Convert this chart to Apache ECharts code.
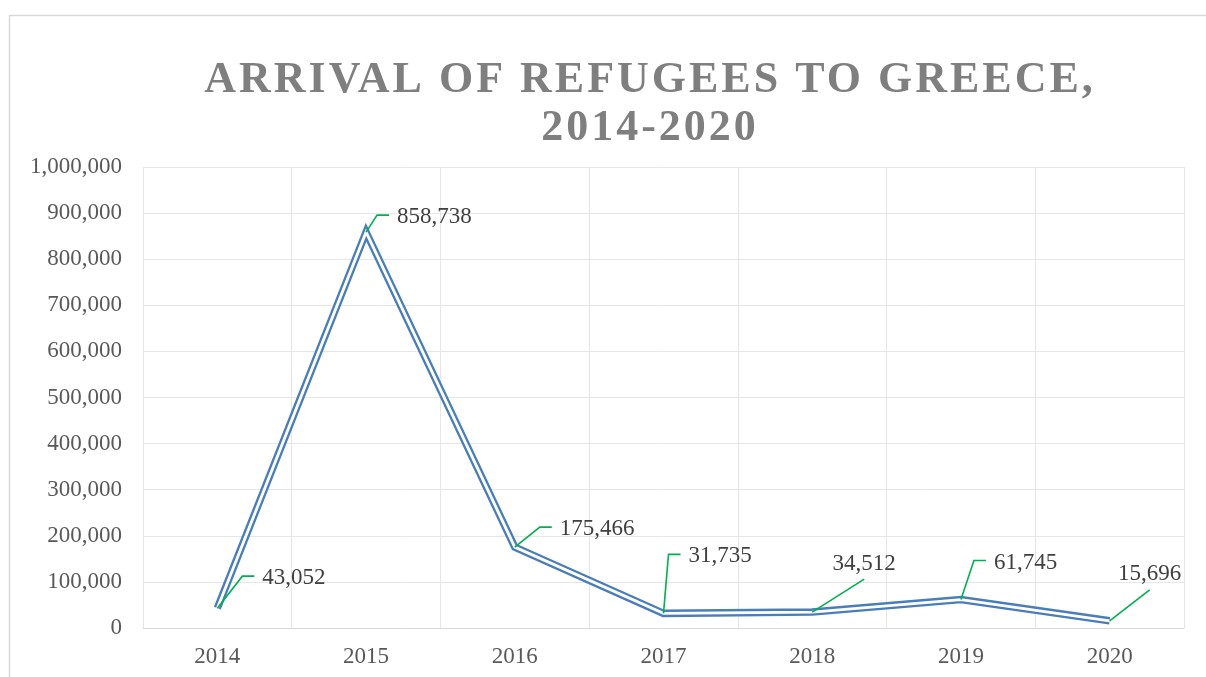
<!DOCTYPE html>
<html><head><meta charset="utf-8">
<script src="https://cdn.jsdelivr.net/npm/echarts@6/dist/echarts.min.js"></script>
<style>html,body{margin:0;padding:0;background:#fff}#c{width:1206px;height:677px}</style>
</head><body><div id="c"></div>
<script>
// ---- data ----
const years = ['2014', '2015', '2016', '2017', '2018', '2019', '2020'];
const arrivals = [43052, 858738, 175466, 31735, 34512, 61745, 15696];
const titleText = 'ARRIVAL OF REFUGEES TO GREECE,\n2014-2020';

// ---- label leader layout (pixel offsets, styling only) ----
const leaderLayout = [
  { mode: 'elbow', dx: 25, dy: -32 },
  { mode: 'elbow', dx: 11, dy: -17 },
  { mode: 'elbow', dx: 25, dy: -20 },
  { mode: 'elbow', dx: 5, dy: -59 },
  { mode: 'straight', dx: 52, dy: -33 },
  { mode: 'elbow', dx: 13, dy: -39 },
  { mode: 'straight', dx: 40, dy: -31 }
];

const fmt = v => Number(v).toLocaleString('en-US');
const SERIF = '"Liberation Serif", "Times New Roman", serif';
const BLUE = '#4a7ebb';

const chart = echarts.init(document.getElementById('c'));
// title lives on its own canvas layer so it can get letter spacing
try {
  const layer = chart.getZr().painter.getLayer(1);
  if (layer && layer.ctx) layer.ctx.letterSpacing = '3px';
} catch (e) {}

chart.setOption({
  animation: false,
  backgroundColor: '#ffffff',
  graphic: [{
    type: 'rect', z: -10, silent: true,
    shape: { x: 9.5, y: 15.5, width: 1300, height: 800 },
    style: { fill: 'none', stroke: '#d9d9d9', lineWidth: 1.5 }
  }],
  title: {
    text: titleText, zlevel: 1,
    left: 645, top: 52, textAlign: 'center',
    textStyle: { fontFamily: SERIF, fontWeight: 'bold', fontSize: 44, lineHeight: 48, color: '#7f7f7f' }
  },
  grid: { left: 143, right: 22, top: 167, bottom: 49, containLabel: false },
  xAxis: {
    type: 'category', data: years, boundaryGap: true,
    axisLine: { show: true, lineStyle: { color: '#d9d9d9', width: 1 } },
    axisTick: { show: false },
    splitLine: { show: true, lineStyle: { color: '#e6e6e6', width: 1 } },
    axisLabel: { color: '#595959', fontFamily: SERIF, fontSize: 23, margin: 17 }
  },
  yAxis: {
    type: 'value', min: 0, max: 1000000, interval: 100000,
    axisLine: { show: false }, axisTick: { show: false },
    splitLine: { show: true, lineStyle: { color: '#e6e6e6', width: 1 } },
    axisLabel: { color: '#595959', fontFamily: SERIF, fontSize: 23, margin: 21, formatter: v => fmt(v) }
  },
  series: [
    {
      type: 'line', data: arrivals, showSymbol: false, symbol: 'none', z: 2,
      lineStyle: { color: BLUE, width: 7.5, join: 'miter', miterLimit: 20, cap: 'butt' }
    },
    {
      type: 'line', data: arrivals, showSymbol: false, symbol: 'none', z: 3,
      lineStyle: { color: '#ffffff', width: 2.8, join: 'miter', miterLimit: 20, cap: 'butt' }
    },
    {
      type: 'custom', z: 5,
      data: arrivals.map((v, i) => [i, v]),
      encode: { x: 0, y: 1 },
      renderItem: function (params, api) {
        const i = params.dataIndex;
        const p = api.coord([api.value(0), api.value(1)]);
        const L = leaderLayout[i];
        const e = [p[0] + L.dx, p[1] + L.dy];
        let pts, tx, ty, align;
        if (L.mode === 'elbow') {
          pts = [p, e, [e[0] + 12, e[1]]];
          tx = e[0] + 20; ty = e[1] + 2; align = 'left';
        } else {
          pts = [p, e];
          tx = e[0]; ty = e[1] - 15.5; align = 'center';
        }
        return {
          type: 'group',
          children: [
            { type: 'polyline', shape: { points: pts }, style: { stroke: '#00b050', lineWidth: 1.6, fill: null } },
            { type: 'text', x: tx, y: ty, style: { text: fmt(api.value(1)), fill: '#404040', fontFamily: SERIF, fontSize: 23, align: align, verticalAlign: 'middle' } }
          ]
        };
      }
    }
  ]
});
</script>
</body></html>
